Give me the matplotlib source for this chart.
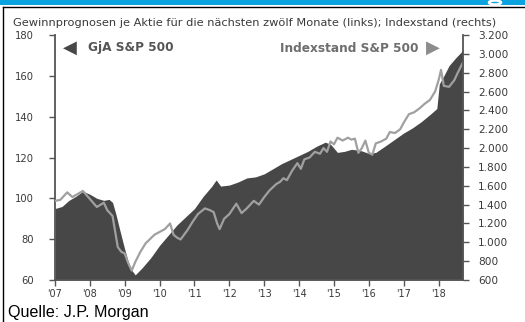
import matplotlib
matplotlib.use("Agg")
import matplotlib.pyplot as plt
from matplotlib.lines import Line2D
from matplotlib.patches import Rectangle, Ellipse
from matplotlib.ticker import FuncFormatter

# Forward earnings per share, S&P 500 (left axis), decimal years
eps_dates = [2007.0, 2007.2, 2007.4, 2007.6, 2007.8, 2008.0, 2008.2, 2008.4, 2008.55, 2008.65,
             2008.75, 2008.85, 2009.0, 2009.15, 2009.3, 2009.5, 2009.75, 2010.0, 2010.25, 2010.5,
             2010.75, 2011.0, 2011.25, 2011.5, 2011.62, 2011.75, 2012.0, 2012.25, 2012.5, 2012.75,
             2013.0, 2013.25, 2013.5, 2013.75, 2014.0, 2014.25, 2014.5, 2014.75, 2014.9, 2015.1,
             2015.3, 2015.5, 2015.75, 2016.0, 2016.2, 2016.5, 2016.75, 2017.0, 2017.25, 2017.5,
             2017.75, 2017.95, 2018.02, 2018.15, 2018.3, 2018.5, 2018.7]
eps_values = [95, 96, 99, 101, 103.5, 102, 100, 99, 99.5, 98,
              92, 85, 75, 66, 62.5, 66, 71, 77, 82, 87,
              91, 95, 101, 106, 109, 106, 106.5, 108, 110, 110.5,
              112, 114.5, 117, 119, 121, 123, 125.5, 127.5, 126.5, 122.5,
              123, 124, 123.5, 122, 122.5, 126, 129, 132, 134.5, 137.5,
              141, 144, 156, 160, 165, 169, 172.5]

# S&P 500 index level (right axis)
spx_dates = [2007.0, 2007.15, 2007.35, 2007.5, 2007.8, 2008.0, 2008.2, 2008.4, 2008.5, 2008.65,
             2008.8, 2008.9, 2009.0, 2009.1, 2009.2, 2009.3, 2009.45, 2009.6, 2009.7, 2009.85,
             2010.0, 2010.15, 2010.3, 2010.4, 2010.5, 2010.6, 2010.8, 2010.95, 2011.1, 2011.3,
             2011.45, 2011.55, 2011.65, 2011.72, 2011.85, 2012.0, 2012.2, 2012.35, 2012.5, 2012.7,
             2012.85, 2013.0, 2013.15, 2013.35, 2013.45, 2013.55, 2013.65, 2013.8, 2013.95, 2014.05,
             2014.15, 2014.3, 2014.45, 2014.6, 2014.7, 2014.8, 2014.9, 2015.0, 2015.1, 2015.25,
             2015.4, 2015.5, 2015.6, 2015.7, 2015.8, 2015.9, 2016.0, 2016.1, 2016.2, 2016.35,
             2016.5, 2016.6, 2016.75, 2016.9, 2017.0, 2017.15, 2017.3, 2017.45, 2017.6, 2017.75,
             2017.9, 2018.0, 2018.07, 2018.15, 2018.3, 2018.45, 2018.55, 2018.7]
spx_values = [1440, 1450, 1530, 1480, 1545, 1460, 1375, 1420, 1340, 1280,
              950, 900, 880, 780, 700, 790, 900, 990, 1025, 1080,
              1110, 1140, 1200, 1080, 1050, 1030, 1130, 1220, 1300, 1360,
              1340, 1320, 1200, 1140, 1250, 1300, 1410, 1310, 1360, 1440,
              1400, 1480, 1550, 1620, 1640, 1680, 1660, 1760, 1840, 1780,
              1880, 1900, 1960, 1940, 2000, 1960, 2070, 2040, 2110, 2080,
              2110, 2090, 2100, 1950, 2000, 2080, 1950, 1930, 2050, 2070,
              2100, 2170, 2160, 2200, 2270, 2360, 2380, 2420, 2470, 2510,
              2600, 2720, 2830, 2660, 2650, 2720, 2800, 2910]

year_ticks = list(range(2007, 2019))
year_labels = ["'07", "'08", "'09", "'10", "'11", "'12", "'13", "'14", "'15", "'16", "'17", "'18"]
left_ticks = [60, 80, 100, 120, 140, 160, 180]
right_ticks = list(range(600, 3201, 200))

title_text = "Gewinnprognosen je Aktie für die nächsten zwölf Monate (links); Indexstand (rechts)"
eps_label = "GjA S&P 500"
spx_label = "Indexstand S&P 500"
source_text = "Quelle: J.P. Morgan"

W, H = 525, 322
fig = plt.figure(figsize=(W / 100, H / 100), dpi=100)
fig.patch.set_facecolor("white")

def fx(px):
    return px / W

def fy(py):
    return 1 - py / H

# header band and frame
fig.add_artist(Rectangle((0, fy(5)), 1, 5 / H, transform=fig.transFigure,
                         facecolor="#0aa3e0", edgecolor="none"))
fig.add_artist(Ellipse((fx(495), fy(2.5)), 12 / W, 4 / H, transform=fig.transFigure,
                       facecolor="none", edgecolor="white", lw=1.8))
fig.add_artist(Line2D([fx(2.5), 1], [fy(7), fy(7)], transform=fig.transFigure,
                      color="black", lw=1.0))
fig.add_artist(Line2D([fx(2.5), fx(2.5)], [fy(7), 0], transform=fig.transFigure,
                      color="black", lw=1.0))

ax = fig.add_axes([fx(55), fy(280), fx(463) - fx(55), fy(35) - fy(280)])
ax2 = ax.twinx()

grey_dark = "#474747"
spine_col = "#555555"
txt_col = "#3a3a3a"

ax.fill_between(eps_dates, 60, eps_values, color=grey_dark, lw=0)
ax2.plot(spx_dates, spx_values, color="#a0a0a0", lw=1.6, solid_joinstyle="round")

ax.set_xlim(2007.0, 2018.7)
ax.set_ylim(60, 180)
ax2.set_ylim(600, 3200)

ax.set_xticks(year_ticks)
ax.set_xticklabels(year_labels)
ax.set_yticks(left_ticks)
ax2.set_yticks(right_ticks)
ax2.yaxis.set_major_formatter(FuncFormatter(lambda v, p: f"{int(v):,}".replace(",", ".")))

for a in (ax, ax2):
    a.spines["top"].set_visible(False)
    for s in ("left", "right", "bottom"):
        a.spines[s].set_color(spine_col)
        a.spines[s].set_linewidth(1.3)
    a.tick_params(direction="out", length=4, width=1, color=spine_col, labelcolor=txt_col)
    a.set_facecolor("none")
ax.spines["right"].set_visible(False)
ax2.spines["left"].set_visible(False)
ax2.spines["bottom"].set_visible(False)

for lab in ax.get_xticklabels():
    lab.set_fontsize(7)
    lab.set_family("DejaVu Sans")
for lab in ax.get_yticklabels():
    lab.set_fontsize(7.2)
    lab.set_family("DejaVu Sans")
for lab in ax2.get_yticklabels():
    lab.set_fontsize(7.6)
    lab.set_family("DejaVu Sans")
ax.tick_params(axis="y", pad=11)
ax.tick_params(axis="x", pad=2.5)
ax2.tick_params(axis="y", pad=7)

fig.text(fx(13), fy(23), title_text, fontsize=8.2, color=txt_col,
         family="DejaVu Sans", va="center", ha="left")

# series labels with pointer triangles
fig.text(fx(63), fy(48), "◀", fontsize=13, color=grey_dark, family="DejaVu Sans",
         va="center", ha="left")
fig.text(fx(88), fy(48), eps_label, fontsize=8.7, color="#555555", fontweight="bold",
         family="DejaVu Sans", va="center", ha="left")
fig.text(fx(419), fy(48), spx_label, fontsize=8.7, color="#6e6e6e", fontweight="bold",
         family="DejaVu Sans", va="center", ha="right")
fig.text(fx(426), fy(48), "▶", fontsize=13, color="#8c8c8c", family="DejaVu Sans",
         va="center", ha="left")

fig.text(fx(8), fy(317), source_text, fontsize=11.6, color="black",
         family="Liberation Sans", va="baseline", ha="left")

fig.savefig("out.png", dpi=100, facecolor="white")
